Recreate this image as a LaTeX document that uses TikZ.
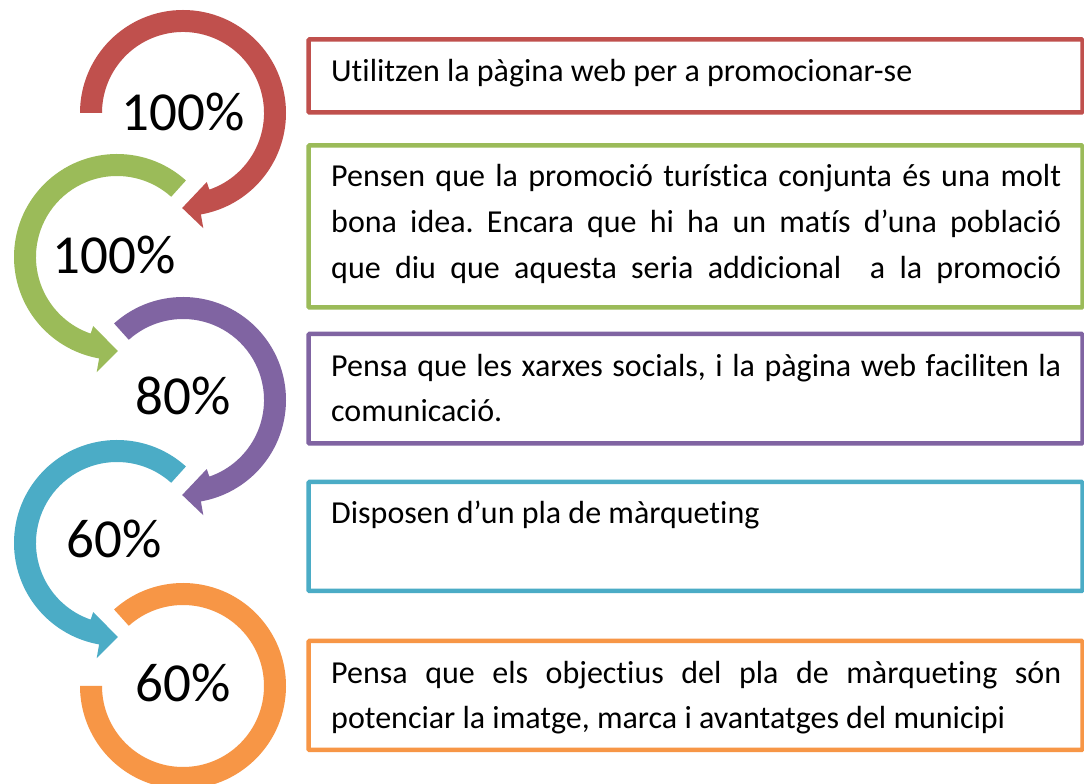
\documentclass[tikz,border=0pt]{standalone}
\usepackage{fontspec}
\setmainfont[Ligatures=NoCommon]{Carlito}
\frenchspacing
\definecolor{cR}{HTML}{C0504D}
\definecolor{cG}{HTML}{9BBB59}
\definecolor{cP}{HTML}{8064A2}
\definecolor{cT}{HTML}{4BACC6}
\definecolor{cO}{HTML}{F79646}
\begin{document}
\begin{tikzpicture}[x=1pt,y=1pt,
  box/.style={draw, line width=4.5pt, fill=white, inner sep=0pt, outer sep=0pt,
    anchor=south west, minimum width=774pt, rounded corners=1pt},
  ln/.style={anchor=base west, inner sep=0pt, font=\fontsize{32}{38}\selectfont},
  pct/.style={anchor=base, inner sep=0pt, font=\fontsize{55}{60}\selectfont}]
\useasboundingbox (0,0) rectangle (1084,784);
\fill[white] (0,0) rectangle (1084,784);

% circular arrows
\fill[cR, shift={(183,671)}] (180:103pt) arc[start angle=180,end angle=-80,radius=103pt]
  -- (-80:117pt) -- (-90.5:95pt) -- (-71:73pt) -- (-71:81pt)
  arc[start angle=-71,end angle=180,radius=81pt] -- cycle;
\fill[cG, shift={(117,527)}] (48:103pt) arc[start angle=48,end angle=260,radius=103pt]
  -- (260:117pt) -- (270.5:94pt) -- (251:73pt) -- (251:81pt)
  arc[start angle=251,end angle=48,radius=81pt] -- cycle;
\fill[cP, shift={(183,384)}] (132:103pt) arc[start angle=132,end angle=-80,radius=103pt]
  -- (-80:117pt) -- (-90.5:95pt) -- (-71:73pt) -- (-71:81pt)
  arc[start angle=-71,end angle=132,radius=81pt] -- cycle;
\fill[cT, shift={(117,241)}] (48:103pt) arc[start angle=48,end angle=260,radius=103pt]
  -- (260:117pt) -- (270.5:94pt) -- (251:73pt) -- (251:81pt)
  arc[start angle=251,end angle=48,radius=81pt] -- cycle;
\fill[cO, shift={(183,98)}] (132:103pt) arc[start angle=132,end angle=-180,radius=103pt]
  -- (180:81pt) arc[start angle=-180,end angle=132,radius=81pt] -- cycle;

% percentages
\node[pct] (p1) at (183,653.3) {100\%};
\node[pct] (p2) at (114,510.5) {100\%};
\node[pct] (p3) at (183.5,369) {80\%};
\node[pct] (p4) at (114,226.7) {60\%};
\node[pct] (p5) at (183.5,82.3) {60\%};

% boxes
\node[box, draw=cR, minimum height=73pt] (b1) at (308.5,671.5) {};
\node[box, draw=cG, minimum height=162pt] (b2) at (308.5,476.5) {};
\node[box, draw=cP, minimum height=109.4pt] (b3) at (308.5,340.6) {};
\node[box, draw=cT, minimum height=109pt] (b4) at (308.5,193) {};
\node[box, draw=cO, minimum height=109pt] (b5) at (308.5,34) {};

% texts
\node[ln] (t1) at (331,702) {Utilitzen la pàgina web per a promocionar-se};
\node[ln] (t2a) at (331,597.3) {\makebox[730pt][s]{Pensen que la promoció turística conjunta és una molt}};
\node[ln] (t2b) at (331,551.5) {\makebox[730pt][s]{bona idea. Encara que hi ha un matís d’una població}};
\node[ln] (t2c) at (331,505.7) {\makebox[730pt][s]{que diu que aquesta seria addicional\ \ a la promoció}};
\node[ln] (t3a) at (331,407.3) {\makebox[730pt][s]{Pensa que les xarxes socials, i la pàgina web faciliten la}};
\node[ln] (t3b) at (331,362.3) {comunicació.};
\node[ln] (t4) at (331,260.7) {Disposen d’un pla de màrqueting};
\node[ln] (t5a) at (331,100.7) {\makebox[730pt][s]{Pensa que els objectius del pla de màrqueting són}};
\node[ln] (t5b) at (331,55.7) {potenciar la imatge, marca i avantatges del municipi};
\end{tikzpicture}
\end{document}
